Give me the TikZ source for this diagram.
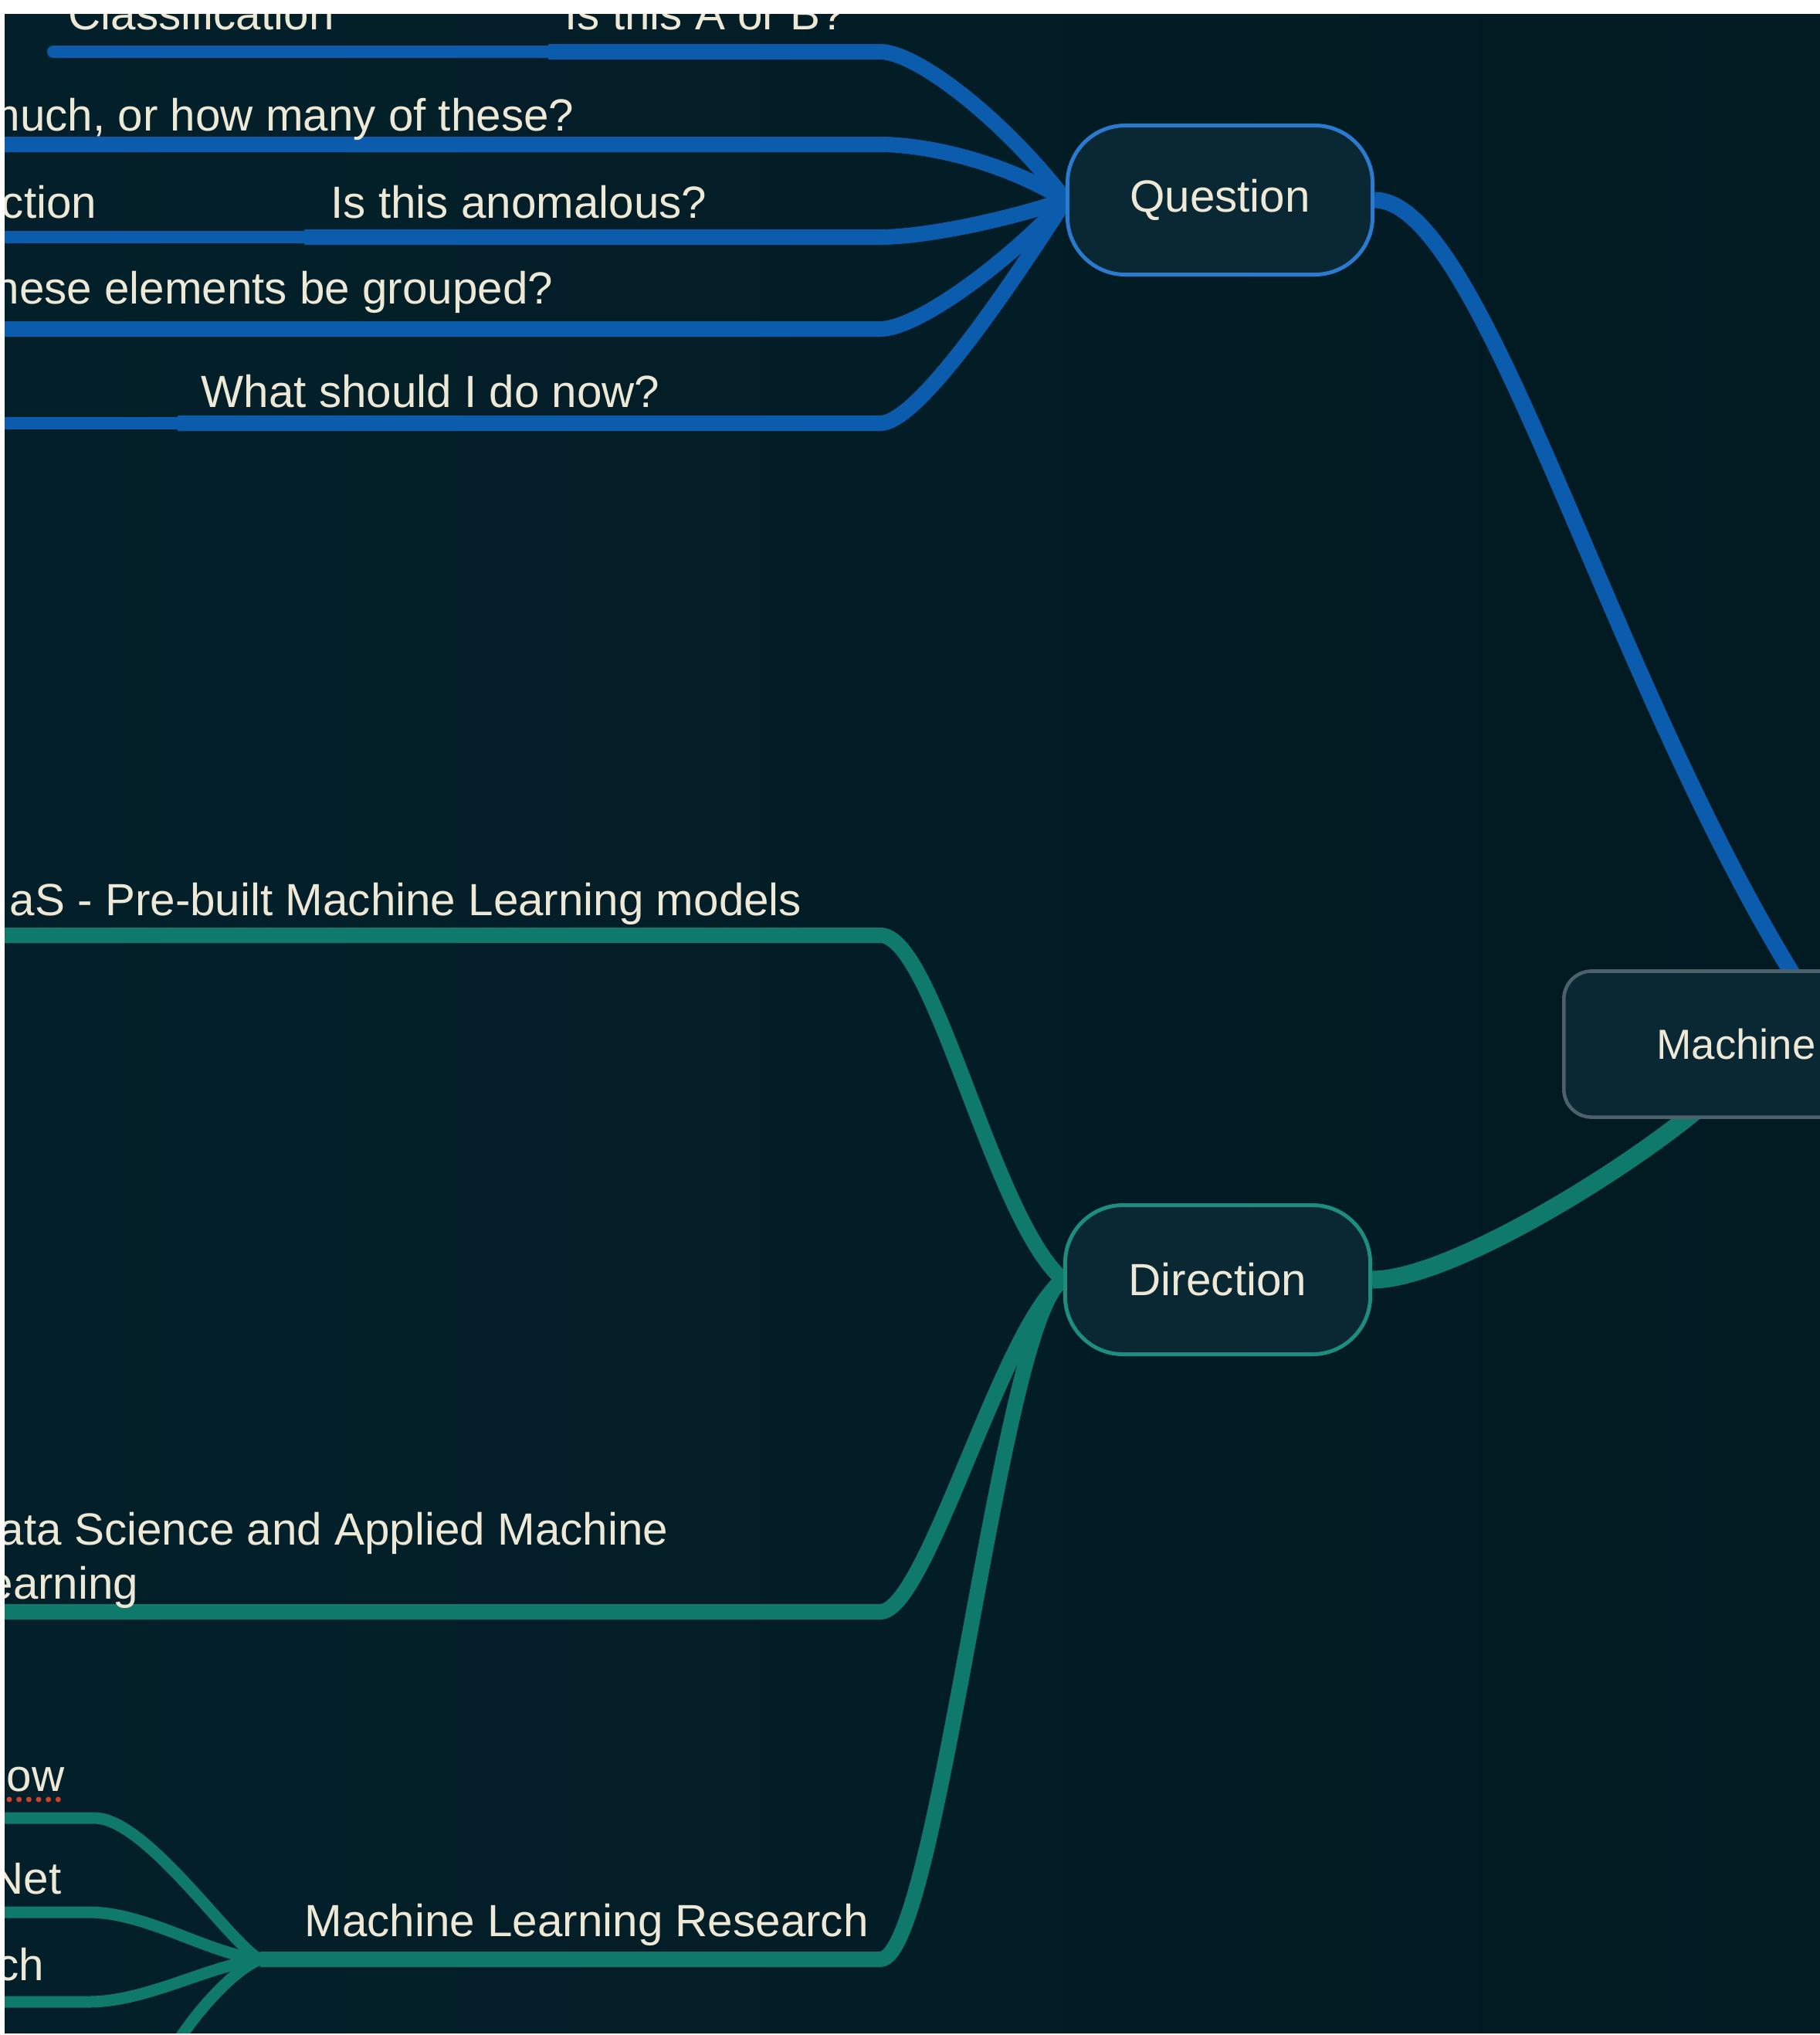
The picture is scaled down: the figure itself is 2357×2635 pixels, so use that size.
\documentclass[tikz,border=0pt]{standalone}
\usepackage{fontspec}
\setmainfont{Liberation Sans}
\usepackage{xcolor}
\usepackage{tikz}
\usetikzlibrary{positioning,backgrounds}

\definecolor{bgleft}{HTML}{03202A}
\definecolor{bgright}{HTML}{021A22}
\definecolor{nodefill}{HTML}{0A2833}
\definecolor{qblue}{HTML}{0B5CAD}
\definecolor{qborder}{HTML}{2A7BD0}
\definecolor{dgreen}{HTML}{0F796B}
\definecolor{dborder}{HTML}{1D8D7F}
\definecolor{mborder}{HTML}{4C6169}
\definecolor{txt}{HTML}{EEE9D6}
\definecolor{spellred}{HTML}{D0402C}

\begin{document}
\begin{tikzpicture}[x=0.01cm, y=-0.01cm,
  lbl/.style={inner sep=0pt, text=txt, font=\fontsize{16.6}{20}\selectfont},
  topic/.style={line width=1.4pt, fill=nodefill, rounded corners=0.75cm,
    minimum width=3.95cm, minimum height=1.93cm, text=txt,
    font=\fontsize{16.6}{20}\selectfont},
  rootbox/.style={draw=mborder, line width=1.3pt, fill=nodefill, rounded corners=0.36cm,
    minimum height=1.89cm, inner xsep=1.2cm, text=txt, anchor=west,
    font=\fontsize{15.5}{19}\selectfont},
  qlink/.style={qblue, line width=0.2cm},
  qsub/.style={qblue, line width=0.16cm, line cap=round},
  qmain/.style={qblue, line width=0.21cm},
  dlink/.style={dgreen, line width=0.2cm},
  dsub/.style={dgreen, line width=0.15cm},
  dmain/.style={dgreen, line width=0.23cm},
  spell/.style={spellred, line width=2pt, line cap=round, dash pattern=on 0pt off 3.6pt}]
\useasboundingbox (0,0) rectangle (2357,2635);

\node[topic, draw=qborder] (question) at (1580,259) {Question};
\node[topic, draw=dborder] (direction) at (1577,1657) {Direction};
\node[rootbox] (machine) at (2023,1352) {Machine};

\node[lbl, anchor=base west] (cls) at (88,38) {Classification};
\node[lbl, anchor=base west] (isab) at (731,38) {Is this A or B?};
\node[lbl, anchor=base east] (howmuch) at (744,169) {much, or how many of these?};
\node[lbl, anchor=base east] (anodet) at (126,282) {ction};
\node[lbl, anchor=base west] (anom) at (428,282) {Is this anomalous?};
\node[lbl, anchor=base east] (group) at (717,393) {hese elements be grouped?};
\node[lbl, anchor=base west] (todo) at (260,527) {What should I do now?};

\node[lbl, anchor=base east] (mlaas) at (1039,1185) {aS - Pre-built Machine Learning models};
\node[lbl, anchor=base east] (dsaml) at (866,2000) {ata Science and Applied Machine};
\node[lbl, anchor=base east] (dsaml2) at (180,2070) {earning};
\node[lbl, anchor=base west] (mlr) at (394,2507) {Machine Learning Research};
\node[lbl, anchor=base east] (tf) at (84,2319) {ow};
\node[lbl, anchor=base east] (mxnet) at (80,2452) {Net};
\node[lbl, anchor=base east] (torch) at (58,2564) {ch};
\draw[spell] (12,2330) -- (84,2330);

\coordinate (q1) at (1140,67);
\coordinate (q2) at (1140,187);
\coordinate (q3) at (1140,307);
\coordinate (q4) at (1140,426);
\coordinate (q5) at (1140,548);
\coordinate (cls-a) at (69,67);
\coordinate (cls-b) at (710,67);
\coordinate (reg-a) at (-20,187);
\coordinate (ano-a) at (-20,307);
\coordinate (ano-b) at (394,307);
\coordinate (clu-a) at (-20,426);
\coordinate (rl-a) at (-20,548);
\coordinate (rl-b) at (230,548);

\coordinate (d1) at (1140,1211);
\coordinate (d2) at (1140,2087);
\coordinate (d3) at (1140,2537);
\coordinate (mlaas-a) at (-20,1211);
\coordinate (ds-a) at (-20,2087);
\coordinate (mlr-j) at (337,2537);
\coordinate (c1) at (122,2354);
\coordinate (c2) at (115,2476);
\coordinate (c3) at (115,2592);
\coordinate (c4) at (205,2690);
\coordinate (c1-a) at (-20,2354);
\coordinate (c2-a) at (-20,2476);
\coordinate (c3-a) at (-20,2592);

\coordinate (mq) at (2330,1275);
\coordinate (md) at (2200,1435);

\begin{pgfonlayer}{background}
\shade[left color=bgleft, right color=bgright] (6,18) rectangle (2357,2633);

\draw[qsub] (cls-a) -- (cls-b);
\draw[qlink] (cls-b) -- (q1) .. controls +(45,0) and +(-85,-110) .. (question.west);
\draw[qlink] (reg-a) -- (q2) .. controls +(50,0) and +(-90,-55) .. (question.west);
\draw[qsub] (ano-a) -- (ano-b);
\draw[qlink] (ano-b) -- (q3) .. controls +(50,0) and +(-90,30) .. (question.west);
\draw[qlink] (clu-a) -- (q4) .. controls +(45,0) and +(-85,90) .. (question.west);
\draw[qsub] (rl-a) -- (rl-b);
\draw[qlink] (rl-b) -- (q5) .. controls +(45,0) and +(-90,140) .. (question.west);

\draw[dlink] (mlaas-a) -- (d1) .. controls +(70,0) and +(-91,-77) .. (direction.west);
\draw[dlink] (ds-a) -- (d2) .. controls +(60,0) and +(-81,63) .. (direction.west);
\draw[dlink] (mlr-j) -- (d3) .. controls +(75,0) and +(-81,43) .. (direction.west);

\draw[dsub] (c1-a) -- (c1) .. controls +(68,0) and +(-37,-17) .. (mlr-j);
\draw[dsub] (c2-a) -- (c2) .. controls +(75,0) and +(-67,-7) .. (mlr-j);
\draw[dsub] (c3-a) -- (c3) .. controls +(75,0) and +(-67,8) .. (mlr-j);
\draw[dsub] (mlr-j) .. controls +(-40,15) and +(25,-60) .. (c4);

\draw[qmain] (question.east) .. controls +(141,0) and +(-250,-400) .. (mq);
\draw[dmain] (direction.east) .. controls +(100,0) and +(-95,80) .. (md);
\end{pgfonlayer}

\fill[white] (-50,-50) rectangle (2400,18);
\fill[white] (-50,-50) rectangle (6,2700);
\fill[white] (-50,2633) rectangle (2400,2700);
\end{tikzpicture}
\end{document}
